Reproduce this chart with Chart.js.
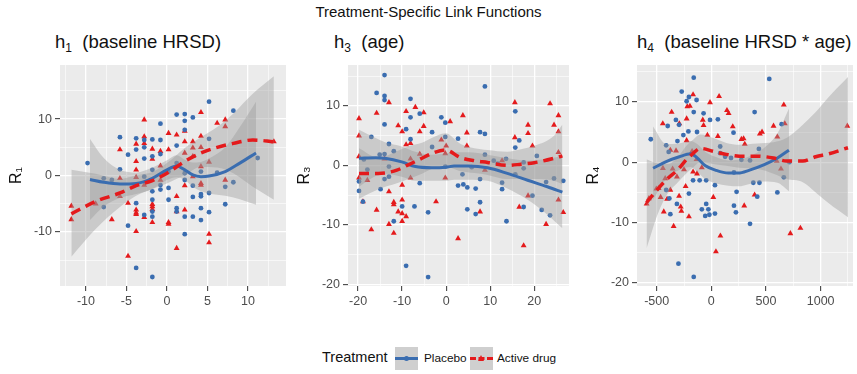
<!DOCTYPE html>
<html>
<head>
<meta charset="utf-8">
<script src="https://cdn.jsdelivr.net/npm/chart.js@4.4.1/dist/chart.umd.min.js"></script>
<style>
  body { margin: 0; background: #fff; font-family: "Liberation Sans", Arial, sans-serif; }
  #wrap { position: relative; width: 857px; height: 374px; overflow: hidden; }
  canvas { position: absolute; }
  .main-title { position: absolute; left: 0; top: 3px; width: 857px; text-align: center; font-size: 15px; color: #111; }
  .ptitle { position: absolute; top: 31px; font-size: 18.5px; color: #111; white-space: pre; }
  .ptitle sub { font-size: 12px; vertical-align: -4px; }
  .leg { position: absolute; color: #111; white-space: nowrap; }
  .key { position: absolute; top: 347px; width: 23px; height: 23px; background: #cfcfcf; }
  .kline { position: absolute; left: 0; top: 10px; width: 23px; height: 3px; }
  .kdash { position: absolute; left: 0; top: 10px; width: 23px; height: 0; border-top: 3.5px dashed #E41A1C; }
  .kdot { position: absolute; left: 9px; top: 9px; width: 5px; height: 5px; border-radius: 50%; background: #3A6DB0; }
  .ktri { position: absolute; left: 8px; top: 8px; width: 0; height: 0; border-left: 3.5px solid transparent; border-right: 3.5px solid transparent; border-bottom: 6px solid #E41A1C; }
</style>
</head>
<body>
<div id="wrap">
  <div class="main-title">Treatment-Specific Link Functions</div>
  <div class="ptitle" style="left:55px">h<sub>1</sub>  (baseline HRSD)</div>
  <div class="ptitle" style="left:334px">h<sub>3</sub>  (age)</div>
  <div class="ptitle" style="left:637px">h<sub>4</sub>  (baseline HRSD * age)</div>

  <canvas id="c1" width="290" height="267" style="left:0px;top:53px"></canvas>
  <canvas id="c2" width="285" height="267" style="left:288px;top:53px"></canvas>
  <canvas id="c3" width="280" height="267" style="left:577px;top:53px"></canvas>

  <div class="leg" style="left:322px;top:349px;font-size:14.5px">Treatment</div>
  <div class="key" style="left:395px"><div class="kline" style="background:#3A6DB0"></div><div class="kdot"></div></div>
  <div class="leg" style="left:424px;top:351px;font-size:11.8px">Placebo</div>
  <div class="key" style="left:470px"><div class="kdash"></div><div class="ktri"></div></div>
  <div class="leg" style="left:497px;top:351px;font-size:11.8px">Active drug</div>
</div>

<script>
// ---- panel 1: h1 (baseline HRSD) ----
const p1Placebo = [[-9.8,2.2],[-7.8,-0.5],[-7.8,-5.6],[-6.8,-0.8],[-5.8,6.8],[-5.8,1.1],[-4.8,3.7],[-4.8,-8.9],[-3.8,6.6],[-3.8,4.6],[-3.8,-4.9],[-3.8,-16.4],
  [-2.8,6.3],[-2.8,5.0],[-2.8,3.0],[-2.8,-0.2],[-2.8,-7.0],[-1.8,6.4],[-1.8,3.4],[-1.8,1.0],[-1.8,-2.8],[-1.8,-4.3],[-1.8,-6.4],[-1.8,-7.3],[-1.8,-18.0],
  [-0.8,9.2],[-0.8,6.3],[-0.8,3.8],[-0.8,-1.7],[-0.8,-2.5],[0.2,0.7],[0.2,-2.2],[0.2,-4.3],[1.2,10.8],[1.2,5.3],[1.2,2.2],[1.2,-5.8],[1.2,-6.4],
  [2.2,10.9],[2.2,9.7],[2.2,8.1],[2.2,0.4],[2.2,-0.8],[2.2,-7.3],[2.2,-10.4],[3.2,10.3],[3.2,-1.8],[3.2,-3.8],[3.2,-7.3],
  [4.2,0.7],[4.2,-3.3],[4.2,-3.7],[4.2,-5.8],[4.2,-7.9],[5.2,13.1],[5.2,6.5],[5.2,-3.1],[5.2,-6.5],[6.2,0.5],[7.2,-2.0],[7.2,-5.1],[8.2,11.5],[8.2,-1.2],[11.2,3.1]]
const p1Active = [[-11.8,-5.4],[-11.8,-7.8],[-8.8,-5.0],[-6.8,-7.8],[-5.8,4.6],[-5.8,-0.5],[-5.8,-3.7],[-4.8,-4.9],[-4.8,-14.3],
  [-3.8,5.6],[-3.8,2.5],[-3.8,1.0],[-3.8,-0.3],[-3.8,-6.1],[-3.8,-6.6],[-3.8,-6.9],[-3.8,-9.9],[-2.8,9.9],[-2.8,6.9],[-2.8,5.7],[-2.8,-1.7],[-2.8,-7.4],
  [-1.8,4.7],[-1.8,2.9],[-1.8,-5.1],[-1.8,-5.5],[-1.8,-6.0],[-1.8,-8.3],[-0.8,4.3],[-0.8,1.7],[-0.8,-0.8],[0.2,7.5],[0.2,4.6],[0.2,-8.3],[0.2,-8.6],
  [1.2,7.2],[1.2,-3.7],[1.2,-6.4],[1.2,-12.9],[2.2,7.9],[2.2,6.0],[2.2,4.0],[2.2,-1.8],[2.2,-6.1],[3.2,6.0],[3.2,4.9],[3.2,3.4],[3.2,-0.2],
  [4.2,11.2],[4.2,7.0],[4.2,5.0],[4.2,1.6],[4.2,-1.4],[4.2,-1.7],[5.2,2.4],[5.2,-10.4],[5.2,-11.9],[6.2,9.3],[7.2,9.9],[7.2,8.7],[7.2,-0.8],[13.2,6.0]]
const p1PlaceboX   = [-9.5, -7.8, -5.8, -3.8, -1.8, 0, 1.2, 2.2, 3.2, 4.2, 5.2, 7.2, 9, 11]
const p1PlaceboFit = [-0.7, -1.2, -1.5, -1.4, -0.5, 1.0, 1.7, 1.0, 0.1, -0.2, -0.1, 0.7, 2.2, 4.0]
const p1PlaceboLo  = [-7.9, -5.5, -4.0, -3.3, -2.4, -0.8, -0.3, -0.8, -2.0, -2.8, -3.2, -3.6, -4.2, -5.2]
const p1PlaceboHi  = [6.5, 3.1, 1.0, 0.5, 1.4, 2.7, 3.6, 2.8, 2.3, 2.4, 3.0, 5.0, 8.6, 13.1]
const p1ActiveX    = [-11.8, -8.8, -5.8, -3.8, -1.8, 0, 2.2, 4.2, 6.2, 8.2, 10.6, 13.2]
const p1ActiveFit  = [-6.8, -4.6, -3.1, -1.8, -0.9, 0.4, 2.5, 4.0, 5.0, 5.7, 6.3, 6.0]
const p1ActiveLo   = [-14.4, -9.5, -5.6, -3.6, -2.4, -1.4, 0.1, 1.5, 1.4, 0.4, -2.0, -4.3]
const p1ActiveHi   = [1.0, 0.3, -0.6, 0.0, 0.6, 2.2, 4.9, 6.8, 8.6, 11.0, 14.5, 17.6]
const p1XMajor = [-10, -5, 0, 5, 10]
const p1XMinor = [-12.5, -7.5, -2.5, 2.5, 7.5, 12.5]
const p1YMajor = [-10, 0, 10]
const p1YMinor = [-15, -5, 5, 15]

// ---- panel 2: h3 (age) ----
const p2Placebo = [[-19.8,-2.7],[-19.8,-4.3],[-18.9,-6.1],[-18.7,1.0],[-17.9,-0.7],[-17.0,4.8],[-15.8,12.2],[-15.1,1.8],[-14.9,-4.0],
  [-14.0,15.2],[-14.0,11.7],[-14.0,11.0],[-14.0,6.9],[-14.0,1.9],[-14.0,-2.3],[-13.0,3.6],[-13.0,-1.9],[-13.0,-0.2],[-11.9,2.4],[-11.9,-9.4],
  [-10.0,-6.9],[-9.1,6.1],[-9.1,-16.9],[-8.1,11.2],[-8.1,8.1],[-8.1,4.4],[-7.2,-6.9],[-6.0,8.7],[-6.0,-3.0],[-4.1,-18.8],[-4.1,-7.9],
  [-3.2,5.6],[-3.2,3.1],[-1.1,8.1],[-0.2,7.2],[-0.2,4.8],[-0.2,-0.2],[2.7,4.5],[2.7,-3.4],[3.7,-1.5],[3.9,-3.2],[4.8,-3.7],[4.8,-7.4],
  [5.8,-0.3],[6.7,-3.9],[6.7,-8.2],[7.7,5.6],[7.7,-2.3],[7.7,-6.2],[8.8,13.3],[8.8,5.3],[8.8,1.8],[10.8,0.8],[11.7,0.3],[12.7,-2.9],[12.7,-4.0],
  [13.6,1.1],[13.7,-9.4],[15.7,9.1],[15.7,3.0],[15.7,-1.5],[16.6,4.2],[17.6,0.5],[17.6,-0.5],[17.6,-7.0],[19.6,-5.1],[20.6,1.6],
  [21.7,-7.5],[22.7,-2.8],[23.6,-8.4],[24.5,-2.2],[26.6,-2.6]]
const p2Active = [[-19.8,7.9],[-19.8,5.0],[-19.8,1.5],[-19.8,-2.1],[-18.9,-6.1],[-17.9,-2.5],[-17.0,-10.8],[-15.8,8.8],[-15.8,-7.5],
  [-14.0,1.1],[-13.0,10.6],[-13.0,-4.4],[-13.0,-9.9],[-11.9,-6.2],[-11.9,-6.6],[-11.9,-11.4],[-10.9,6.7],[-10.9,-7.8],
  [-10.0,5.7],[-10.0,-3.3],[-10.0,-5.8],[-10.0,-8.1],[-10.0,-9.4],[-9.1,9.1],[-9.1,3.5],[-9.1,-8.6],[-8.1,3.7],[-8.1,1.1],[-8.1,-2.1],
  [-7.0,9.8],[-6.0,5.7],[-6.0,1.9],[-5.1,8.9],[-5.1,6.6],[-2.3,-6.1],[-1.1,4.3],[-0.2,2.0],[-0.2,-2.1],[0.0,3.3],[0.9,7.4],
  [2.7,-12.3],[3.8,8.4],[4.7,5.5],[4.7,3.3],[7.7,-7.8],[8.8,-0.8],[12.7,0.8],[15.6,10.6],[15.6,4.7],[16.6,-7.0],[17.6,-13.5],
  [18.6,6.8],[18.6,5.4],[18.6,-5.1],[19.6,3.3],[22.7,-9.9],[23.6,10.4],[24.5,6.8],[25.5,8.4],[25.5,5.7],[25.5,2.2],[25.5,-5.8],[26.6,-7.9]]
const p2PlaceboX   = [-19.8, -16, -13.9, -10.1, -7, -3.3, 0, 1.8, 5, 9.4, 13.9, 18.5, 23, 26.4]
const p2PlaceboFit = [1.2, 1.3, 1.2, 0.6, -0.2, -0.4, -0.3, -0.1, -0.1, -0.4, -1.35, -2.5, -3.6, -4.5]
const p2PlaceboLo  = [-3.6, -1.8, -1.4, -1.9, -2.6, -2.6, -2.6, -2.4, -2.4, -2.6, -3.9, -5.8, -8.3, -10.6]
const p2PlaceboHi  = [6.0, 4.6, 3.9, 3.2, 2.3, 1.8, 2.0, 2.2, 2.2, 1.8, 1.2, 0.8, 1.1, 1.6]
const p2ActiveX    = [-19.8, -15.4, -11.2, -8.6, -5.5, -3.3, -0.2, 3.3, 6.4, 9.4, 13.9, 17, 20, 24.5, 26.4]
const p2ActiveFit  = [-1.35, -1.35, -0.8, 0.1, 1.2, 2.0, 2.6, 1.3, 0.8, 0.5, 0.0, 0.2, 0.45, 1.2, 1.6]
const p2ActiveLo   = [-5.6, -4.0, -3.0, -2.3, -1.4, -0.6, -0.2, -1.0, -1.3, -1.6, -2.3, -2.3, -2.3, -2.6, -3.2]
const p2ActiveHi   = [2.9, 1.3, 2.4, 3.2, 3.8, 4.6, 5.4, 3.6, 2.9, 2.6, 2.3, 2.7, 3.3, 5.0, 6.9]
const p2XMajor = [-20, -10, 0, 10, 20]
const p2XMinor = [-15, -5, 5, 15, 25]
const p2YMajor = [-20, -10, 0, 10]
const p2YMinor = [-15, -5, 5, 15]

// ---- panel 3: h4 (baseline HRSD * age) ----
const p3Placebo = [[-554,3.8],[-413,2.8],[-390,1.7],[-399,6.0],[-413,-4.6],[-384,-6.0],[-375,-8.6],[-324,7.0],[-310,3.5],[-315,-6.9],[-301,-16.8],
  [-295,6.2],[-271,11.7],[-256,4.5],[-226,10.1],[-205,10.8],[-210,5.1],[-205,-5.2],[-161,14.0],[-161,8.3],[-167,-3.0],[-161,-19.0],
  [-135,10.3],[-131,5.0],[-107,-3.0],[-71,8.1],[-87,-7.8],[-56,-8.9],[-47,-6.9],[-47,-3.0],[-12,7.0],[-27,-7.8],[-18,-8.7],[33,-8.5],[33,-3.8],
  [60,7.1],[81,2.6],[81,1.5],[126,0.9],[180,0.7],[203,4.9],[207,-1.7],[207,-7.2],[225,-8.3],[231,-4.9],[275,0.4],[354,-10.2],[354,0.3],
  [396,8.3],[384,-3.4],[440,-3.4],[420,-5.7],[435,2.2],[530,13.8],[604,-5.0],[643,6.3],[663,-2.5],[714,0.0]]
const p3Active = [[-592,-6.9],[-571,-6.0],[-503,-4.4],[-482,-4.3],[-464,-5.8],[-444,6.4],[-443,-1.0],[-435,-8.2],[-422,-2.7],[-405,-6.1],
  [-375,-4.6],[-375,2.0],[-363,8.3],[-345,-10.6],[-354,-1.1],[-323,1.9],[-315,-2.4],[-295,-5.6],[-293,6.4],[-280,-7.4],[-274,-8.1],
  [-250,-1.2],[-235,-4.0],[-226,3.6],[-226,7.2],[-205,-9.0],[-220,9.2],[-196,9.3],[-176,1.8],[-167,-1.6],[-167,11.2],[-135,0.5],[-131,-1.9],
  [-87,-0.9],[-78,7.0],[-71,6.1],[-36,4.5],[-12,9.9],[18,-5.8],[42,-14.8],[60,4.3],[71,10.9],[83,-12.2],[143,8.6],[158,8.1],[196,5.9],
  [275,3.8],[295,3.9],[306,3.0],[301,-7.2],[396,-5.4],[444,4.7],[464,5.0],[569,6.0],[598,0.2],[604,4.2],[637,-1.1],[663,9.5],[672,6.4],
  [723,-11.8],[815,-10.9],[1244,6.0]]
const p3PlaceboX   = [-533, -413, -293, -189, -129, -54, 36, 156, 246, 350, 485, 605, 710]
const p3PlaceboFit = [-1.0, 0.1, 0.9, 1.4, 0.7, -0.6, -1.3, -1.8, -1.8, -1.3, -0.4, 0.7, 2.0]
const p3PlaceboLo  = [-6.2, -2.8, -1.3, -0.8, -1.6, -2.8, -3.5, -3.9, -4.0, -3.6, -3.2, -3.4, -4.8]
const p3PlaceboHi  = [5.9, 3.0, 3.1, 3.5, 3.0, 1.7, 0.9, 0.3, 0.4, 1.0, 2.4, 4.8, 8.9]
const p3ActiveX    = [-593, -488, -399, -310, -220, -176, -101, 18, 137, 256, 420, 569, 688, 837, 955, 1074, 1250]
const p3ActiveFit  = [-6.7, -4.4, -2.7, -1.3, 0.6, 1.3, 2.3, 1.8, 1.3, 1.0, 1.0, 0.7, 0.2, 0.2, 0.9, 1.4, 2.4]
const p3ActiveLo   = [-14.3, -8.5, -5.2, -3.4, -1.7, -1.0, 0.0, -0.3, -0.6, -0.9, -1.1, -1.9, -2.8, -3.3, -5.0, -6.8, -9.1]
const p3ActiveHi   = [0.5, -0.2, -0.3, 0.8, 2.9, 3.6, 4.6, 4.0, 3.2, 2.9, 3.1, 3.3, 4.0, 6.2, 8.3, 10.8, 14.1]
const p3XMajor = [-500, 0, 500, 1000]
const p3XMinor = [-250, 250, 750, 1250]
const p3YMajor = [-20, -10, 0, 10]
const p3YMinor = [-15, -5, 5, 15]

const BLUE = "#3A6DB0"
const RED = "#E41A1C"
const BAND = "rgba(153,153,153,0.4)"

Chart.defaults.font.family = '"Liberation Sans", Arial, sans-serif'

const panelBg = {
  id: "panelBg",
  beforeDraw(chart) {
    const { ctx, chartArea: a } = chart
    ctx.save()
    ctx.fillStyle = "#EBEBEB"
    ctx.fillRect(a.left, a.top, a.width, a.height)
    ctx.restore()
  }
}

const pts = (list) => list.map(p => ({ x: p[0], y: p[1] }))
const xy = (xs, ys) => xs.map((x, i) => ({ x, y: ys[i] }))

function axis(range, major, minor, extra) {
  const all = [...major, ...minor].sort((a, b) => a - b)
  return Object.assign({
    type: "linear",
    min: range[0],
    max: range[1],
    afterBuildTicks: (s) => { s.ticks = all.map(v => ({ value: v })) },
    ticks: {
      autoSkip: false, maxRotation: 0, color: "#4D4D4D", padding: 3,
      font: { size: 12.5 },
      callback: (v) => major.includes(v) ? String(v) : ""
    },
    grid: {
      color: "#FFFFFF",
      lineWidth: (c) => major.includes(c.tick && c.tick.value) ? 1.3 : 0.6,
      tickColor: (c) => major.includes(c.tick && c.tick.value) ? "#333333" : "rgba(0,0,0,0)",
      tickLength: 5,
      tickWidth: 1
    },
    border: { display: false }
  }, extra)
}

function band(xs, lo, hi) {
  const base = { pointRadius: 0, borderWidth: 0, borderColor: "rgba(0,0,0,0)", cubicInterpolationMode: "monotone", order: 2 }
  return [
    Object.assign({ data: xy(xs, lo), fill: false }, base),
    Object.assign({ data: xy(xs, hi), fill: "-1", backgroundColor: BAND }, base)
  ]
}

function makePanel(id, p) {
  return new Chart(document.getElementById(id), {
    type: "line",
    data: {
      datasets: [
        { label: "Placebo", data: pts(p.placebo), showLine: false, pointStyle: "circle", pointRadius: 2.4,
          pointBackgroundColor: BLUE, pointBorderWidth: 0, order: 3 },
        { label: "Active drug", data: pts(p.active), showLine: false, pointStyle: "triangle", pointRadius: 3.4,
          pointBackgroundColor: RED, pointBorderWidth: 0, order: 3 },
        ...band(p.aX, p.aLo, p.aHi),
        ...band(p.pX, p.pLo, p.pHi),
        { label: "Placebo fit", data: xy(p.pX, p.pFit), borderColor: BLUE, borderWidth: 3, pointRadius: 0,
          cubicInterpolationMode: "monotone", fill: false, order: 1 },
        { label: "Active fit", data: xy(p.aX, p.aFit), borderColor: RED, borderWidth: 3.5, borderDash: [10, 6],
          pointRadius: 0, cubicInterpolationMode: "monotone", fill: false, order: 0 }
      ]
    },
    options: {
      responsive: false,
      animation: false,
      events: [],
      layout: { padding: { top: 12, right: p.padRight, left: 0, bottom: 0 } },
      plugins: { legend: { display: false }, tooltip: { enabled: false } },
      scales: {
        x: axis(p.xRange, p.xMajor, p.xMinor, { position: "bottom", afterFit: (s) => { s.height = 34 } }),
        y: axis(p.yRange, p.yMajor, p.yMinor, {
          position: "left",
          afterFit: (s) => { s.width = 60 },
          title: { display: true, text: p.yTitle, color: "#111", font: { size: 16 }, padding: { top: 7, bottom: 0 } }
        })
      }
    },
    plugins: [panelBg]
  })
}

makePanel("c1", {
  placebo: p1Placebo, active: p1Active,
  pX: p1PlaceboX, pFit: p1PlaceboFit, pLo: p1PlaceboLo, pHi: p1PlaceboHi,
  aX: p1ActiveX, aFit: p1ActiveFit, aLo: p1ActiveLo, aHi: p1ActiveHi,
  xRange: [-13.2, 14.7], yRange: [-19.6, 19.6],
  xMajor: p1XMajor, xMinor: p1XMinor, yMajor: p1YMajor, yMinor: p1YMinor,
  yTitle: "R₁", padRight: 3
})
makePanel("c2", {
  placebo: p2Placebo, active: p2Active,
  pX: p2PlaceboX, pFit: p2PlaceboFit, pLo: p2PlaceboLo, pHi: p2PlaceboHi,
  aX: p2ActiveX, aFit: p2ActiveFit, aLo: p2ActiveLo, aHi: p2ActiveHi,
  xRange: [-22.3, 27.9], yRange: [-20.3, 16.9],
  xMajor: p2XMajor, xMinor: p2XMinor, yMajor: p2YMajor, yMinor: p2YMinor,
  yTitle: "R₃", padRight: 3
})
makePanel("c3", {
  placebo: p3Placebo, active: p3Active,
  pX: p3PlaceboX, pFit: p3PlaceboFit, pLo: p3PlaceboLo, pHi: p3PlaceboHi,
  aX: p3ActiveX, aFit: p3ActiveFit, aLo: p3ActiveLo, aHi: p3ActiveHi,
  xRange: [-680, 1296], yRange: [-20.5, 16.1],
  xMajor: p3XMajor, xMinor: p3XMinor, yMajor: p3YMajor, yMinor: p3YMinor,
  yTitle: "R₄", padRight: 0
})
</script>
</body>
</html>
